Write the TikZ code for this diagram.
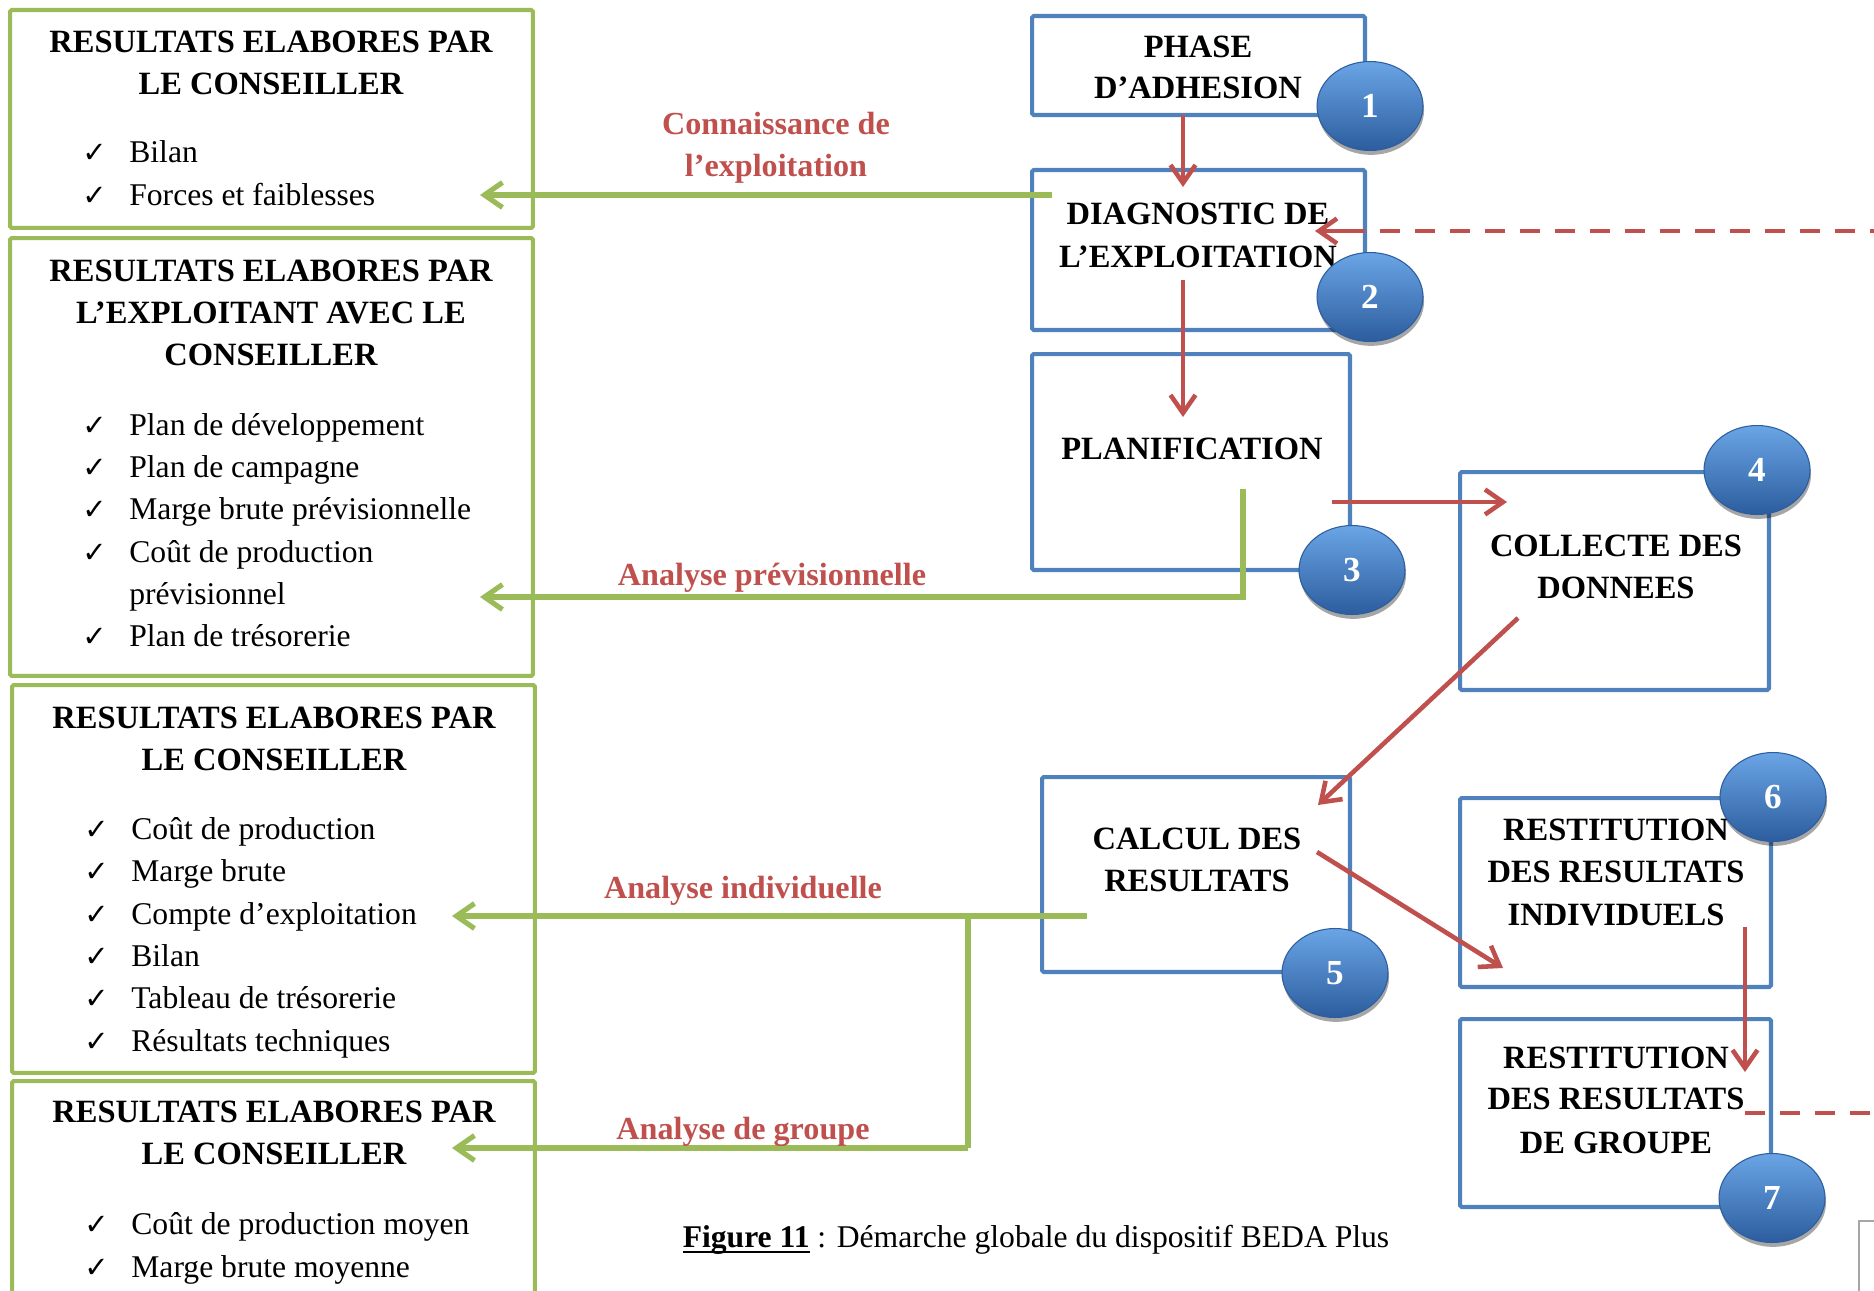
\documentclass[tikz,border=0pt]{standalone}
\usepackage{fontspec}
\setmainfont{Liberation Serif}
\newfontfamily\symfont{DejaVu Sans}
\usetikzlibrary{arrows.meta,shapes.geometric,shadows}
\definecolor{bblue}{HTML}{4F81BD}
\definecolor{bgreen}{HTML}{9BBB59}
\definecolor{bred}{HTML}{C0504D}
\definecolor{ctop}{HTML}{6AA5E6}
\definecolor{cmid}{HTML}{3C7BC8}
\definecolor{cbot}{HTML}{2C5D9E}
\newcommand{\thickul}[1]{\setbox0\hbox{#1}\rlap{\rule[-3.6pt]{\wd0}{1.3pt}}\box0\relax}
\tikzset{
  gbox/.style={draw=bgreen, line width=2.3pt, inner sep=0, rectangle, rounded corners=1pt},
  bbox/.style={draw=bblue, line width=2.3pt, inner sep=0, rectangle, rounded corners=1pt},
  chk/.style={anchor=base west, inner sep=0, font=\symfont\bfseries\fontsize{16.5}{16.5}\selectfont},
  item/.style={anchor=base west, inner sep=0, font=\fontsize{18}{24}\selectfont},
  ttl/.style={anchor=base, inner sep=0, font=\bfseries\fontsize{18.5}{24}\selectfont},
  rlabel/.style={anchor=base, inner sep=0, text=bred, font=\bfseries\fontsize{18.3}{24}\selectfont},
  num/.style={ellipse, minimum width=2.12cm, minimum height=1.78cm, inner sep=0,
    top color=ctop, middle color=cmid, bottom color=cbot, draw=cbot, line width=0.6pt,
    text=white, font=\bfseries\fontsize{20}{20}\selectfont,
    drop shadow={shadow xshift=0.6pt, shadow yshift=-2.5pt, opacity=0.35, fill=black}},
  rarrow/.style={draw=bred, line width=2.6pt, -{Straight Barb[length=0.36cm,width=0.5cm,line width=2.6pt]}},
  rdash/.style={draw=bred, line width=2.7pt, dash pattern=on 0.4cm off 0.3cm},
  garrow/.style={draw=bgreen, line width=2.9pt, line join=miter, -{Straight Barb[length=0.36cm,width=0.5cm,line width=2.9pt]}},
  gline/.style={draw=bgreen, line width=2.9pt},
}
\begin{document}
\begin{tikzpicture}[x=0.02cm, y=-0.02cm]
\useasboundingbox (0,0) rectangle (1874,1291);
\clip (0,0) rectangle (1874,1291);
\fill[white] (0,0) rectangle (1874,1291);

% ---------- left green boxes ----------
\node[gbox, minimum width=10.46cm, minimum height=4.36cm] (bA) at (271.5,119) {};
\node[gbox, minimum width=10.46cm, minimum height=8.76cm] (bB) at (271.5,457) {};
\node[gbox, minimum width=10.46cm, minimum height=7.76cm] (bC) at (273.5,879) {};
\node[gbox, minimum width=10.46cm, minimum height=4.80cm] (bD) at (273.5,1201) {};

% box A
\node[ttl] (tA1) at (271,53) {RESULTATS ELABORES PAR};
\node[ttl] (tA2) at (271,95) {LE CONSEILLER};
\foreach \y/\t [count=\i] in {163/Bilan, 206/Forces et faiblesses} {
  \node[chk] (kA\i) at (82,\y) {✓};
  \node[item] (iA\i) at (129,\y) {\t};
}
% box B
\node[ttl] (tB1) at (271,281) {RESULTATS ELABORES PAR};
\node[ttl] (tB2) at (271,323) {L’EXPLOITANT AVEC LE};
\node[ttl] (tB3) at (271,365) {CONSEILLER};
\foreach \y/\t [count=\i] in {435/Plan de développement, 477/Plan de campagne, 519/Marge brute prévisionnelle, 562/Coût de production, 646/Plan de trésorerie} {
  \node[chk] (kB\i) at (82,\y) {✓};
  \node[item] (iB\i) at (129,\y) {\t};
}
\node[item] (iB6) at (129,604) {prévisionnel};
% box C
\node[ttl] (tC1) at (274,728) {RESULTATS ELABORES PAR};
\node[ttl] (tC2) at (274,770) {LE CONSEILLER};
\foreach \y/\t [count=\i] in {839/Coût de production, 881/Marge brute, 924/Compte d’exploitation, 966/Bilan, 1008/Tableau de trésorerie, 1051/Résultats techniques} {
  \node[chk] (kC\i) at (84,\y) {✓};
  \node[item] (iC\i) at (131,\y) {\t};
}
% box D
\node[ttl] (tD1) at (274,1122) {RESULTATS ELABORES PAR};
\node[ttl] (tD2) at (274,1164) {LE CONSEILLER};
\foreach \y/\t [count=\i] in {1234/Coût de production moyen, 1277/Marge brute moyenne} {
  \node[chk] (kD\i) at (84,\y) {✓};
  \node[item] (iD\i) at (131,\y) {\t};
}

% ---------- blue boxes ----------
\node[bbox, minimum width=6.66cm, minimum height=1.98cm] (b1) at (1198.5,65.5) {};
\node[bbox, minimum width=6.66cm, minimum height=3.20cm] (b2) at (1198.5,250) {};
\node[bbox, minimum width=6.36cm, minimum height=4.32cm] (b3) at (1191,462) {};
\node[bbox, minimum width=6.18cm, minimum height=4.36cm] (b4) at (1614.5,581) {};
\node[bbox, minimum width=6.16cm, minimum height=3.90cm] (b5) at (1196,874.5) {};
\node[bbox, minimum width=6.22cm, minimum height=3.78cm] (b6) at (1615.5,892.5) {};
\node[bbox, minimum width=6.22cm, minimum height=3.76cm] (b7) at (1615.5,1113) {};

\node[ttl] (x11) at (1198,58) {PHASE};
\node[ttl] (x12) at (1198,99) {D’ADHESION};
\node[ttl] (x21) at (1198,224) {DIAGNOSTIC DE};
\node[ttl] (x22) at (1198,267) {L’EXPLOITATION};
\node[ttl] (x31) at (1192,459) {PLANIFICATION};
\node[ttl] (x41) at (1616,556) {COLLECTE DES};
\node[ttl] (x42) at (1616,598) {DONNEES};
\node[ttl] (x51) at (1197,849) {CALCUL DES};
\node[ttl] (x52) at (1197,891) {RESULTATS};
\node[ttl] (x61) at (1616,840) {RESTITUTION};
\node[ttl] (x62) at (1616,882) {DES RESULTATS};
\node[ttl] (x63) at (1616,925) {INDIVIDUELS};
\node[ttl] (x71) at (1616,1068) {RESTITUTION};
\node[ttl] (x72) at (1616,1109) {DES RESULTATS};
\node[ttl] (x73) at (1616,1153) {DE GROUPE};

% ---------- connector end points ----------
\coordinate (p1a) at (1183,115);  \coordinate (p1b) at (1183,187);
\coordinate (p2a) at (1183,280);  \coordinate (p2b) at (1183,417);
\coordinate (p3a) at (1332,502);  \coordinate (p3b) at (1507,502);
\coordinate (p4a) at (1518,618);  \coordinate (p4b) at (1318,805);
\coordinate (p5a) at (1317,852);  \coordinate (p5b) at (1503,968);
\coordinate (p6a) at (1745,927);  \coordinate (p6b) at (1745,1072);
\coordinate (d2a) at (1890,231);  \coordinate (d2b) at (1315,231);
\coordinate (d7a) at (1745,1113); \coordinate (d7b) at (1890,1113);
\coordinate (g1a) at (1052,195);  \coordinate (g1b) at (480,195);
\coordinate (g2a) at (1243,489);  \coordinate (g2c) at (1243,597); \coordinate (g2b) at (480,597);
\coordinate (g3a) at (1087,916);  \coordinate (g3b) at (452,916);
\coordinate (g4a) at (968,916);   \coordinate (g4c) at (968,1148); \coordinate (g4b) at (452,1148);

% red flow
\draw[rarrow] (p1a) -- (p1b);
\draw[rarrow] (p2a) -- (p2b);
\draw[rarrow] (p3a) -- (p3b);
\draw[rarrow] (p4a) -- (p4b);
\draw[rarrow] (p5a) -- (p5b);
\draw[rarrow] (p6a) -- (p6b);
\draw[rdash] (d2a) -- ([xshift=0.3cm]d2b);
\draw[draw=bred, line width=2.7pt, -{Straight Barb[length=0.36cm,width=0.5cm,line width=2.6pt]}] ([xshift=0.6cm]d2b) -- (d2b);
\draw[rdash] (d7a) -- (d7b);

% green flow
\draw[garrow] (g1a) -- (g1b);
\draw[garrow] (g2a) -- (g2c) -- (g2b);
\draw[garrow] (g3a) -- (g3b);
\draw[gline] (g4a) -- (g4c);
\draw[garrow] (g4c) -- (g4b);

% labels
\node[rlabel] (l1a) at (776,134) {Connaissance de};
\node[rlabel] (l1b) at (776,176) {l’exploitation};
\node[rlabel] (l2) at (772,585) {Analyse prévisionnelle};
\node[rlabel] (l3) at (743,898) {Analyse individuelle};
\node[rlabel] (l4) at (743,1139) {Analyse de groupe};

% numbered ellipses
\node[num] (c1) at (1370,106) {1};
\node[num] (c2) at (1370,297) {2};
\node[num] (c3) at (1352,570) {3};
\node[num] (c4) at (1757,470) {4};
\node[num] (c5) at (1335,973) {5};
\node[num] (c6) at (1773,797) {6};
\node[num] (c7) at (1772,1198) {7};

% caption
\node[anchor=base, inner sep=0, font=\fontsize{18}{24}\selectfont] (cap) at (1036,1247)
  {\thickul{\textbf{Figure 11}} : Démarche globale du dispositif BEDA Plus};

% frame corner at bottom right
\draw[gray!70, line width=0.8pt] (1859,1300) -- (1859,1221) -- (1880,1221);
\end{tikzpicture}
\end{document}
